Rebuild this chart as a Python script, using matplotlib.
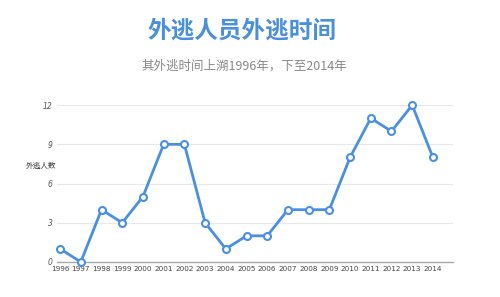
import matplotlib
matplotlib.use("Agg")
import matplotlib.pyplot as plt

years = ["1996","1997","1998","1999","2000","2001","2002","2003","2004","2005",
         "2006","2007","2008","2009","2010","2011","2012","2013","2014"]
counts = [1, 0, 4, 3, 5, 9, 9, 3, 1, 2, 2, 4, 4, 4, 8, 11, 10, 12, 8]
yticks = [0, 3, 6, 9, 12]

plt.rcParams['font.family'] = ['Noto Sans CJK SC', 'DejaVu Sans']

fig = plt.figure(figsize=(5, 2.97), dpi=100)
ax = fig.add_axes([0.114, 0.118, 0.792, 0.528])

x = list(range(len(years)))
ax.plot(x, counts, color='#4a90e2', lw=2, marker='o', ms=5,
        mfc='white', mec='#4a90e2', mew=1.5, clip_on=False, zorder=3)

ax.set_xlim(-0.15, 18.97)
ax.set_ylim(0, 12)
ax.set_yticks(yticks)
ax.set_yticklabels([str(v) for v in yticks], fontsize=5.5, color='#555555',
                   style='italic', family=['DejaVu Sans'])
ax.set_xticks(x)
ax.set_xticklabels(years, fontsize=5.2, color='#444444', family=['DejaVu Sans'])
ax.tick_params(axis='both', length=0, pad=3)
ax.tick_params(axis='y', pad=3)
for s in ['top', 'right', 'left']:
    ax.spines[s].set_visible(False)
ax.spines['bottom'].set_color('#aaaaaa')
ax.spines['bottom'].set_linewidth(1)
ax.grid(axis='y', color='#e8e8e8', lw=0.8)
ax.set_axisbelow(True)

fig.text(0.082, 1 - 166/297, '外逃人数', fontsize=5.5, color='#333333',
         ha='center', va='center')

fig.text(0.484, 1 - 30/297, '外逃人员外逃时间', fontsize=17, fontweight='bold',
         color='#4a90d9', ha='center', va='center')
fig.text(0.488, 1 - 66/297, '其外逃时间上溯1996年，下至2014年', fontsize=9,
         color='#888888', ha='center', va='center')

fig.savefig('out.png', dpi=100, facecolor='white')
